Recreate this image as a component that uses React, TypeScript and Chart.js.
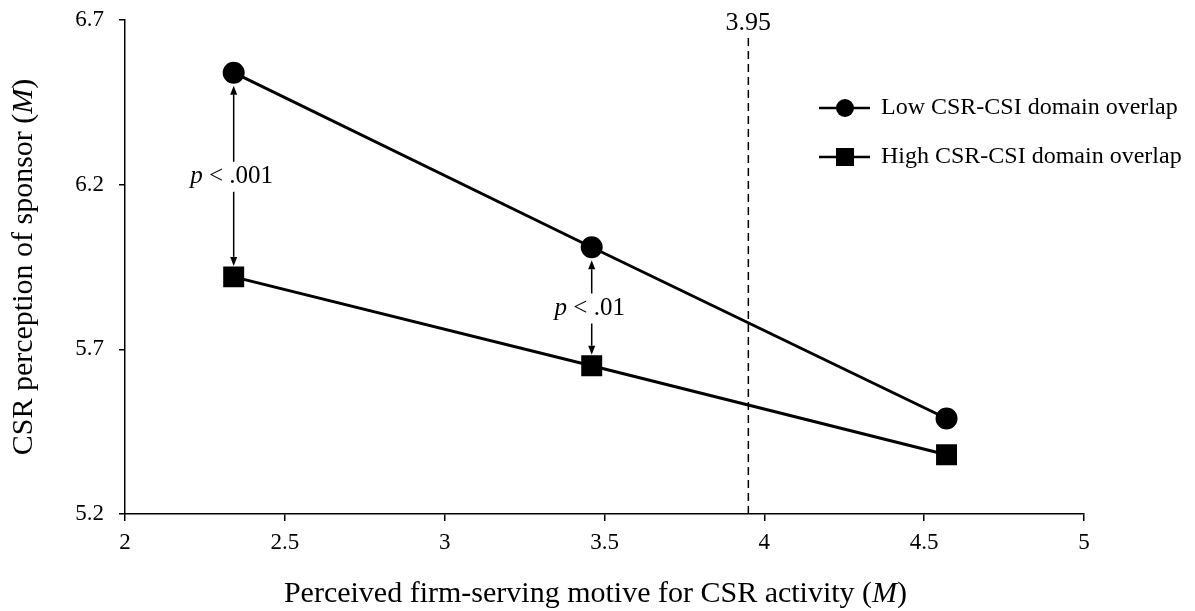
import React, { useEffect, useRef } from "react";
import { Chart, registerables } from "chart.js";

Chart.register(...registerables);

// ---- data ----
const xValues = [2.34, 3.46, 4.57];
const lowOverlap = [6.54, 6.01, 5.49];
const highOverlap = [5.92, 5.65, 5.38];
const xTicks = [2, 2.5, 3, 3.5, 4, 4.5, 5];
const yTicks = [5.2, 5.7, 6.2, 6.7];
const thresholdX = 3.95;
const thresholdLabel = "3.95";
const seriesLabels = ["Low CSR-CSI domain overlap", "High CSR-CSI domain overlap"];
const pComparisons = [
  { index: 0, text: ".001" },
  { index: 1, text: ".01" },
];
const xTitle: [string, boolean][] = [["Perceived firm-serving motive for CSR activity (", false], ["M", true], [")", false]];
const yTitle: [string, boolean][] = [["CSR perception of sponsor (", false], ["M", true], [")", false]];

const FONT = "'Liberation Serif', 'Times New Roman', serif";

function font(size: number, italic: boolean) {
  return `${italic ? "italic " : ""}${size}px ${FONT}`;
}

function drawMixed(ctx: CanvasRenderingContext2D, parts: [string, boolean][], cx: number, cy: number, size: number) {
  let total = 0;
  const widths = parts.map(([t, it]) => {
    ctx.font = font(size, it);
    const w = ctx.measureText(t).width;
    total += w;
    return w;
  });
  let x = cx - total / 2;
  ctx.textAlign = "left";
  ctx.textBaseline = "middle";
  parts.forEach(([t, it], i) => {
    ctx.font = font(size, it);
    ctx.fillText(t, x, cy);
    x += widths[i];
  });
}

function arrow(ctx: CanvasRenderingContext2D, x: number, fromY: number, tipY: number) {
  const dir = tipY > fromY ? 1 : -1;
  const head = 9;
  ctx.beginPath();
  ctx.moveTo(x, fromY);
  ctx.lineTo(x, tipY - dir * head);
  ctx.stroke();
  ctx.beginPath();
  ctx.moveTo(x, tipY);
  ctx.lineTo(x - 3.5, tipY - dir * head);
  ctx.lineTo(x + 3.5, tipY - dir * head);
  ctx.closePath();
  ctx.fill();
}

const annotPlugin = {
  id: "annot",
  beforeDatasetsDraw(chart: any) {
    const ctx: CanvasRenderingContext2D = chart.ctx;
    const xs = chart.scales.x;
    const area = chart.chartArea;
    const px = xs.getPixelForValue(thresholdX);
    ctx.save();
    ctx.strokeStyle = "#000";
    ctx.lineWidth = 1.5;
    ctx.setLineDash([8, 5]);
    ctx.beginPath();
    ctx.moveTo(px, 38);
    ctx.lineTo(px, area.bottom);
    ctx.stroke();
    ctx.restore();
  },
  afterDraw(chart: any) {
    const ctx: CanvasRenderingContext2D = chart.ctx;
    const xs = chart.scales.x;
    const ys = chart.scales.y;
    const area = chart.chartArea;
    ctx.save();
    ctx.fillStyle = "#000";
    ctx.strokeStyle = "#000";

    // threshold label
    ctx.font = font(26, false);
    ctx.textAlign = "center";
    ctx.textBaseline = "middle";
    ctx.fillText(thresholdLabel, xs.getPixelForValue(thresholdX), 23);

    // axis titles
    drawMixed(ctx, xTitle, (area.left + area.right) / 2 - 9, 594, 30);
    ctx.save();
    ctx.translate(24, (area.top + area.bottom) / 2);
    ctx.rotate(-Math.PI / 2);
    drawMixed(ctx, yTitle, 0, 0, 30);
    ctx.restore();

    // p-value annotations
    ctx.lineWidth = 1.5;
    pComparisons.forEach(({ index, text }) => {
      const x = xs.getPixelForValue(xValues[index]);
      const yTop = ys.getPixelForValue(lowOverlap[index]) + 13;
      const yBot = ys.getPixelForValue(highOverlap[index]) - 11;
      const mid = (yTop + yBot) / 2;
      arrow(ctx, x, mid - 14, yTop);
      arrow(ctx, x, mid + 16, yBot);
      drawMixed(ctx, [["p", true], [" < ", false], [text, false]], x - 2, mid + 1, 25);
    });

    // legend
    const lx0 = 819, lx1 = 870, lcx = 845;
    const rows = [108, 157];
    ctx.lineWidth = 2.5;
    rows.forEach((ry, i) => {
      ctx.beginPath();
      ctx.moveTo(lx0, ry);
      ctx.lineTo(lx1, ry);
      ctx.stroke();
      if (i === 0) {
        ctx.beginPath();
        ctx.arc(lcx, ry, 9, 0, Math.PI * 2);
        ctx.fill();
      } else {
        ctx.fillRect(lcx - 9, ry - 9, 18, 18);
      }
      ctx.font = font(24, false);
      ctx.textAlign = "left";
      ctx.textBaseline = "middle";
      ctx.fillText(seriesLabels[i], 881, ry);
    });
    ctx.restore();
  },
};

export default function App() {
  const ref = useRef<HTMLCanvasElement>(null);
  useEffect(() => {
    document.body.style.margin = "0";
    const canvas = ref.current!;
    const tickFont = { family: FONT, size: 23 };
    const chart = new Chart(canvas, {
      type: "line",
      data: {
        datasets: [
          {
            label: seriesLabels[0],
            data: xValues.map((x, i) => ({ x, y: lowOverlap[i] })),
            borderColor: "#000",
            backgroundColor: "#000",
            borderWidth: 3,
            pointStyle: "circle",
            pointRadius: 9.5,
            pointBackgroundColor: "#000",
            pointBorderColor: "#000",
          },
          {
            label: seriesLabels[1],
            data: xValues.map((x, i) => ({ x, y: highOverlap[i] })),
            borderColor: "#000",
            backgroundColor: "#000",
            borderWidth: 3,
            pointStyle: "rect",
            pointRadius: 12.7,
            pointBackgroundColor: "#000",
            pointBorderColor: "#000",
          },
        ],
      },
      options: {
        responsive: false,
        animation: false,
        layout: { padding: { left: 0, right: 111, top: 20, bottom: 0 } },
        plugins: { legend: { display: false }, tooltip: { enabled: false } },
        scales: {
          x: {
            type: "linear",
            min: 2,
            max: 5,
            afterBuildTicks: (s: any) => {
              s.ticks = xTicks.map((v) => ({ value: v }));
            },
            afterFit: (s: any) => {
              s.height = 97;
              s.paddingLeft = 0;
              s.paddingRight = 0;
            },
            border: { color: "#000", width: 1.5 },
            grid: { drawOnChartArea: false, drawTicks: true, tickLength: 7, color: "#000", lineWidth: 1.5 },
            ticks: { color: "#000", font: tickFont, padding: 8, maxRotation: 0, callback: (v: any) => String(v) },
          },
          y: {
            type: "linear",
            min: 5.2,
            max: 6.7,
            afterBuildTicks: (s: any) => {
              s.ticks = yTicks.map((v) => ({ value: v }));
            },
            afterFit: (s: any) => {
              s.width = 125;
              s.paddingTop = 0;
              s.paddingBottom = 0;
            },
            border: { color: "#000", width: 1.5 },
            grid: { drawOnChartArea: false, drawTicks: true, tickLength: 6, color: "#000", lineWidth: 1.5 },
            ticks: { color: "#000", font: tickFont, padding: 15, callback: (v: any) => Number(v).toFixed(1) },
          },
        },
      },
      plugins: [annotPlugin],
    } as any);
    return () => chart.destroy();
  }, []);
  return (
    <div style={{ position: "absolute", left: 0, top: 0, width: 1195, height: 611 }}>
      <canvas ref={ref} width={1195} height={611} />
    </div>
  );
}
